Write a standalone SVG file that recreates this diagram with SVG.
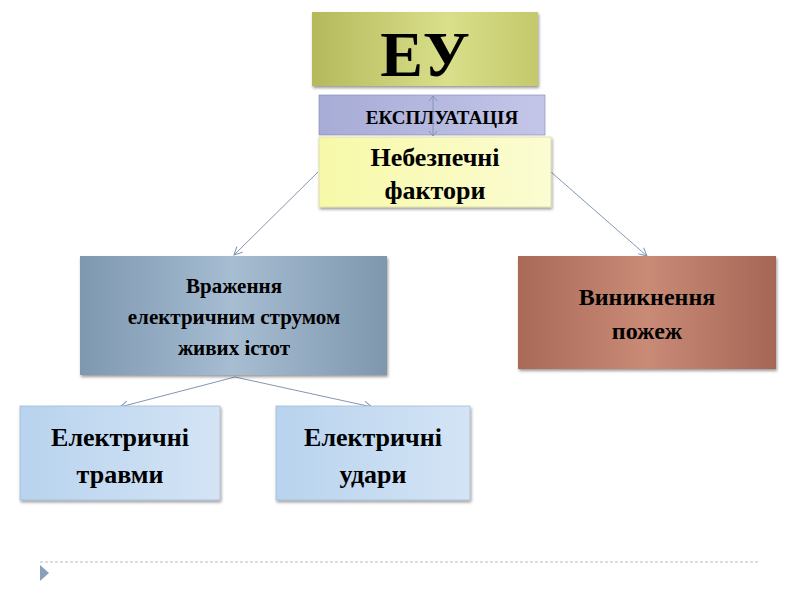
<svg xmlns="http://www.w3.org/2000/svg" width="800" height="600" viewBox="0 0 800 600">
<style>
text{font-family:"Liberation Serif",serif;font-weight:bold;fill:#000;text-anchor:middle}
.c{stroke:#8595b5;stroke-width:1;fill:none}
</style>
<defs>
<marker id="a" markerWidth="10" markerHeight="10" refX="9" refY="5" orient="auto" markerUnits="userSpaceOnUse"><path d="M1,1 L9,5 L1,9" fill="none" stroke="#8595b5"/></marker>
<filter id="s"><feDropShadow dx="1" dy="2" stdDeviation="1.5" flood-opacity="0.4"/></filter>
<linearGradient id="g1" x1="0" x2="1"><stop offset="0" stop-color="#b5b95c"/><stop offset="0.6" stop-color="#d9df8a"/><stop offset="1" stop-color="#c4c96c"/></linearGradient>
<linearGradient id="g2" x1="0" x2="1"><stop offset="0" stop-color="#a7acd6"/><stop offset="1" stop-color="#c4c6e8"/></linearGradient>
<linearGradient id="g3" x1="0" x2="1"><stop offset="0" stop-color="#f7f9a8"/><stop offset="1" stop-color="#fbfcd2"/></linearGradient>
<linearGradient id="g4" x1="0" x2="1"><stop offset="0" stop-color="#7e98b0"/><stop offset="0.5" stop-color="#a6bdd2"/><stop offset="1" stop-color="#7f97ad"/></linearGradient>
<linearGradient id="g5" x1="0" x2="1"><stop offset="0" stop-color="#a96a58"/><stop offset="0.5" stop-color="#c98a76"/><stop offset="1" stop-color="#a66656"/></linearGradient>
<linearGradient id="g6" x1="0" x2="1"><stop offset="0" stop-color="#b8d3ee"/><stop offset="1" stop-color="#d4e4f5"/></linearGradient>
</defs>
<g id="connectors">
<path class="c" d="M318,172 L234,255" marker-end="url(#a)"/>
<path class="c" d="M551,172 L647,256" marker-end="url(#a)"/>
<path class="c" d="M235,377 L120,407" marker-end="url(#a)"/>
<path class="c" d="M235,377 L372,407" marker-end="url(#a)"/>
</g>
<g id="eu"><rect x="312" y="12" width="226" height="74" fill="url(#g1)" filter="url(#s)"/><text x="425" y="76" font-size="64">ЕУ</text></g>
<g id="expl"><rect x="319" y="95" width="226" height="40" fill="url(#g2)" stroke="#8a8fb8" stroke-width="0.7"/><text x="442" y="124" font-size="19">ЕКСПЛУАТАЦІЯ</text></g>
<g id="neb"><rect x="319" y="137" width="232" height="70" fill="url(#g3)" stroke="#d8d8a0" stroke-width="0.7" filter="url(#s)"/><text x="435" y="166" font-size="26">Небезпечні</text><text x="435" y="199" font-size="26">фактори</text></g>
<path class="c" d="M433,96 L433,136 M429,101 L433,96 L437,101 M429,131 L433,136 L437,131"/>
<g id="vr"><rect x="80" y="256" width="307" height="119" fill="url(#g4)" filter="url(#s)"/><text x="234" y="293" font-size="21">Враження</text><text x="234" y="324" font-size="21">електричним струмом</text><text x="234" y="355" font-size="21">живих істот</text></g>
<g id="pozh"><rect x="518" y="256" width="258" height="113" fill="url(#g5)" filter="url(#s)"/><text x="647" y="305" font-size="24">Виникнення</text><text x="647" y="339" font-size="24">пожеж</text></g>
<g id="tr"><rect x="20" y="406" width="200" height="94" fill="url(#g6)" stroke="#9fb8d2" stroke-width="0.7" filter="url(#s)"/><text x="120" y="446" font-size="26">Електричні</text><text x="120" y="483" font-size="26">травми</text></g>
<g id="ud"><rect x="276" y="406" width="194" height="94" fill="url(#g6)" stroke="#9fb8d2" stroke-width="0.7" filter="url(#s)"/><text x="373" y="446" font-size="26">Електричні</text><text x="373" y="483" font-size="26">удари</text></g>
<line x1="40" y1="562" x2="760" y2="562" stroke="#b0bcc8" stroke-dasharray="3,2"/>
<path d="M40,565 L49,573 L40,581 Z" fill="#8aa0b8"/>
</svg>
